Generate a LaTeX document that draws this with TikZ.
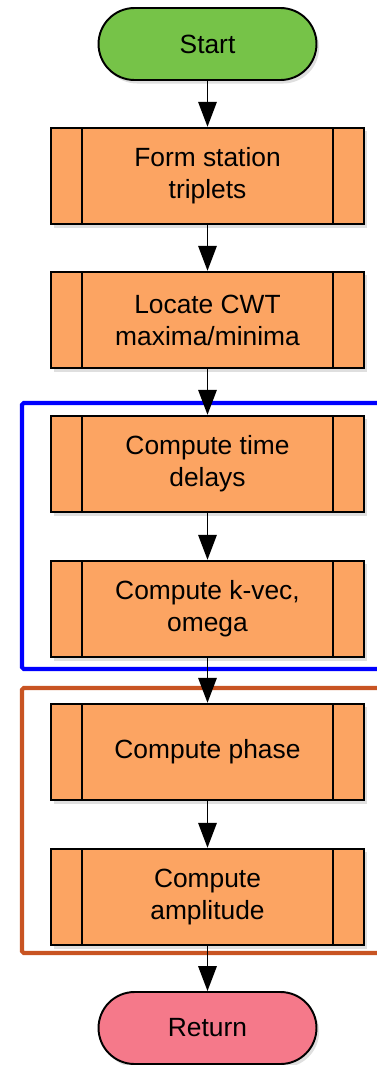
\documentclass[tikz,border=0pt]{standalone}
\usepackage{fontspec}
\setmainfont{Liberation Sans}
\usetikzlibrary{arrows.meta,shadows}

\definecolor{startgreen}{RGB}{118,195,72}
\definecolor{procorange}{RGB}{252,164,98}
\definecolor{returnpink}{RGB}{245,121,138}
\definecolor{framerust}{RGB}{200,84,34}

\begin{document}
\begin{tikzpicture}[
			x=0.02cm, y=-0.02cm,
			>={Triangle[length=0.5cm,width=0.37cm]},
			every node/.style={font=\fontsize{15}{18.2}\selectfont, align=center},
			% Stijlen
			terminal/.style={draw=black, line width=1.1pt, rounded corners=0.72cm,
				minimum width=4.36cm, minimum height=1.44cm,
				drop shadow={opacity=0.25, shadow xshift=1.5pt, shadow yshift=-2pt}},
			subproc/.style={draw=black, line width=1.1pt, fill=procorange,
				minimum width=6.26cm, minimum height=1.93cm,
				drop shadow={opacity=0.25, shadow xshift=1.5pt, shadow yshift=-2pt},
				path picture={
					\draw[line width=0.8pt] ([xshift=0.62cm]path picture bounding box.north west) -- ([xshift=0.62cm]path picture bounding box.south west);
					\draw[line width=0.8pt] ([xshift=-0.62cm]path picture bounding box.north east) -- ([xshift=-0.62cm]path picture bounding box.south east);
				}},
			flow/.style={->, line width=1pt},
			group/.style={line width=2.4pt, rounded corners=1pt}
		]

		% --- Parameters ---
		\def\midX{207.5}   % as van de stroom
		\def\frameL{22}    % linkerkant kaders
		\def\frameR{400}   % kaders lopen rechts door

		% --- Kader ---
		\clip (0,0) rectangle (377,1065);

		% --- 1. GROEPEN ---
		\draw[group, blue] (\frameR,403) -- (\frameL,403) -- (\frameL,669) -- (\frameR,669);
		\draw[group, framerust] (\frameR,688) -- (\frameL,688) -- (\frameL,953) -- (\frameR,953);

		% --- 2. STAPPEN ---
		\node[terminal, fill=startgreen] (start) at (\midX,44) {Start};
		\node[subproc] (triplets) at (\midX,176) {Form station\\triplets};
		\node[subproc] (extrema) at (\midX,320) {Locate CWT\\maxima/minima};
		\node[subproc] (delays) at (\midX,464) {Compute time\\delays};
		\node[subproc] (kvec) at (\midX,609) {Compute k-vec,\\omega};
		\node[subproc] (phase) at (\midX,752) {Compute phase};
		\node[subproc] (amplitude) at (\midX,897) {Compute\\amplitude};
		\node[terminal, fill=returnpink] (return) at (\midX,1028) {Return};

		% --- 3. PIJLEN ---
		\draw[flow] (start) -- (triplets);
		\draw[flow] (triplets) -- (extrema);
		\draw[flow] (extrema) -- (delays);
		\draw[flow] (delays) -- (kvec);
		\draw[flow] (kvec) -- (phase);
		\draw[flow] (phase) -- (amplitude);
		\draw[flow] (amplitude) -- (return);

	\end{tikzpicture}
\end{document}
